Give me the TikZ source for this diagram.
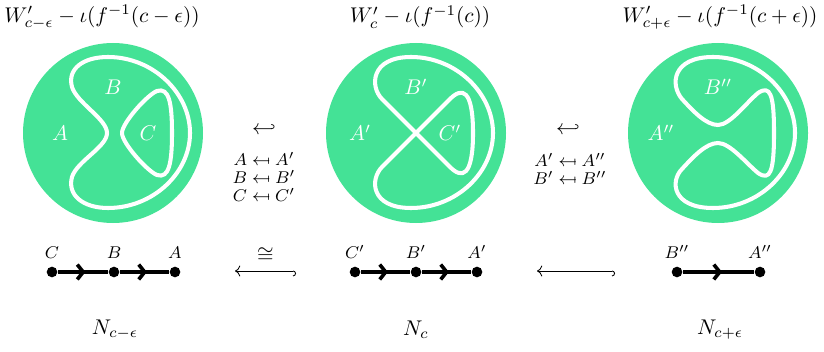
\documentclass[tikz,border=0pt]{standalone}
\usepackage{amsmath,xcolor}
\usetikzlibrary{arrows.meta,decorations.markings}
\definecolor{disk}{HTML}{44E296}
\newcommand{\mfrom}{\mathrel{\leftarrow\mkern-3mu\mapstochar\mkern3mu}}

\begin{document}
\begin{tikzpicture}[x=0.47pt, y=-0.47pt,
    curve/.style={white, line width=1.9pt, line join=round},
    lab/.style={white},
    dot/.style={circle, fill, inner sep=0pt, minimum size=5pt, label distance=0pt},
    seg/.style={line width=1.7pt, postaction={decorate},
      decoration={markings, mark=at position 0.55 with {\arrow{Straight Barb[length=2.8pt,width=7pt]}}}},
    hookarr/.style={{Computer Modern Rightarrow}-{Hooks[right,length=1.4pt,width=5pt]}, thin}]
  \useasboundingbox (0,0) rectangle (824,352);

  % titles
  \node (T1) at (102,17) {$W'_{c-\epsilon}-\iota(f^{-1}(c-\epsilon))$};
  \node (T2) at (420,17) {$W'_{c}-\iota(f^{-1}(c))$};
  \node (T3) at (720,17) {$W'_{c+\epsilon}-\iota(f^{-1}(c+\epsilon))$};

  % left disk
  \fill[disk] (113,133) circle (90);
  \begin{scope}[shift={(113,133)}, yscale=-1]
    \draw[curve] (-6,0) .. controls (-6,14) and (-36,30) .. (-41,46)
      .. controls (-46,64) and (-30,76) .. (-5,76)
      .. controls (40,76) and (77,40) .. (77,0)
      .. controls (77,-40) and (40,-75) .. (-5,-75)
      .. controls (-30,-75) and (-46,-62) .. (-41,-44)
      .. controls (-36,-28) and (-6,-14) .. (-6,0) -- cycle;
    \draw[curve] (9,0) .. controls (9,10) and (34,38) .. (44,42)
      .. controls (56,46) and (59,30) .. (59,0)
      .. controls (59,-30) and (56,-46) .. (44,-42)
      .. controls (34,-38) and (9,-10) .. (9,0) -- cycle;
    \node[lab] (A) at (-53,0) {$A$};
    \node[lab] (B) at (0,46) {$B$};
    \node[lab] (C) at (35,0) {$C$};
  \end{scope}

  % middle disk
  \fill[disk] (416,133) circle (90);
  \begin{scope}[shift={(416,133)}, yscale=-1]
    \draw[curve] (0,0) -- (-34,34) .. controls (-46,46) and (-46,76) .. (-5,76)
      .. controls (40,76) and (77,40) .. (77,0)
      .. controls (77,-40) and (40,-75) .. (-5,-75)
      .. controls (-46,-75) and (-46,-46) .. (-34,-34) -- (34,34)
      .. controls (46,46) and (57,44) .. (57,0)
      .. controls (57,-44) and (46,-46) .. (34,-34) -- cycle;
    \node[lab] (A1) at (-56,0) {$A'$};
    \node[lab] (B1) at (0,46) {$B'$};
    \node[lab] (C1) at (34,0) {$C'$};
  \end{scope}

  % right disk
  \fill[disk] (718,133) circle (90);
  \begin{scope}[shift={(718,133)}, yscale=-1]
    \draw[curve] (0,8) .. controls (-12,8) and (-25,22) .. (-36,34)
      .. controls (-48,48) and (-46,76) .. (-5,76)
      .. controls (40,76) and (77,40) .. (77,0)
      .. controls (77,-40) and (40,-75) .. (-5,-75)
      .. controls (-46,-75) and (-48,-48) .. (-36,-36)
      .. controls (-25,-24) and (-12,-10) .. (0,-10)
      .. controls (12,-10) and (28,-30) .. (40,-40)
      .. controls (52,-48) and (56,-40) .. (56,0)
      .. controls (56,40) and (52,48) .. (40,40)
      .. controls (28,30) and (12,8) .. (0,8) -- cycle;
    \node[lab] (A2) at (-57,0) {$A''$};
    \node[lab] (B2) at (0,46) {$B''$};
  \end{scope}

  % maps between the disks
  \node (H1) at (264,130) {$\hookleftarrow$};
  \node (H2) at (568,130) {$\hookleftarrow$};
  \node[font=\footnotesize, align=center] (M1) at (264,177)
    {$A \mfrom A'$\\[-1.2pt] $B \mfrom B'$\\[-1.2pt] $C \mfrom C'$};
  \node[font=\footnotesize, align=center] (M2) at (570,169)
    {$A' \mfrom A''$\\[-1.2pt] $B' \mfrom B''$};

  % graphs
  \node[dot, label={[font=\footnotesize]above:$C$}] (gC) at (52,272) {};
  \node[dot, label={[font=\footnotesize]above:$B$}] (gB) at (114,272) {};
  \node[dot, label={[font=\footnotesize]above:$A$}] (gA) at (175,272) {};
  \draw[seg] (gC) -- (gB);
  \draw[seg] (gB) -- (gA);

  \node[dot, label={[font=\footnotesize]above:$C'$}] (gC1) at (355,272) {};
  \node[dot, label={[font=\footnotesize]above:$B'$}] (gB1) at (416,272) {};
  \node[dot, label={[font=\footnotesize]above:$A'$}] (gA1) at (477,272) {};
  \draw[seg] (gC1) -- (gB1);
  \draw[seg] (gB1) -- (gA1);

  \node[dot, label={[font=\footnotesize]above:$B''$}] (gB2) at (677,272) {};
  \node[dot, label={[font=\footnotesize]above:$A''$}] (gA2) at (760,272) {};
  \draw[seg] (gB2) -- (gA2);

  \coordinate (e1) at (296,271);
  \coordinate (s1) at (235,271);
  \coordinate (e2) at (615,271);
  \coordinate (s2) at (537,271);
  \draw[hookarr] (s1) -- node[above=0.5pt] {$\cong$} (e1);
  \draw[hookarr] (s2) -- (e2);

  \node (N1) at (115,330) {$N_{c-\epsilon}$};
  \node (N2) at (416,330) {$N_{c}$};
  \node (N3) at (720,330) {$N_{c+\epsilon}$};
\end{tikzpicture}
\end{document}
